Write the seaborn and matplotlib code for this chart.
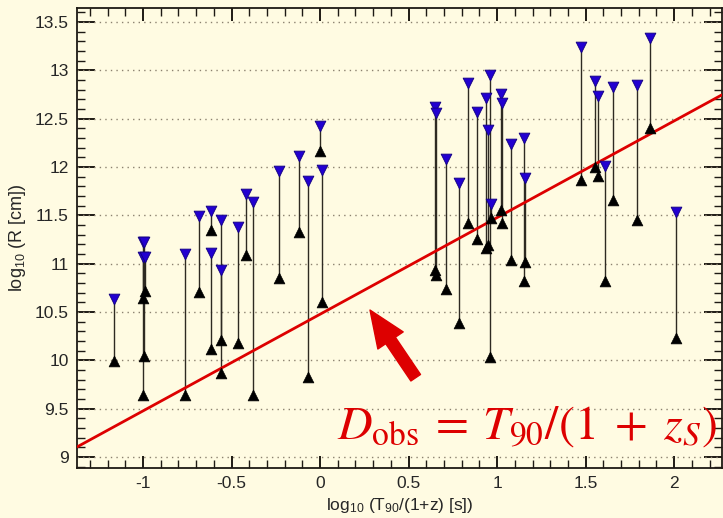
import numpy as np
import pandas as pd
import matplotlib
matplotlib.use("Agg")
import matplotlib.pyplot as plt
import seaborn as sns
from matplotlib.ticker import MultipleLocator

# Rest-frame duration and the allowed range of emission radius for each burst
log_t90_rest = [-1.162, -1.00, -0.995, -1.00, -0.99, -0.763, -0.684, -0.616, -0.616,
                -0.559, -0.559, -0.461, -0.42, -0.38, -0.232, -0.119, -0.066, 0.0,
                0.013, 0.65, 0.655, 0.71, 0.785, 0.838, 0.889, 0.938, 0.951, 0.96,
                0.965, 1.02, 1.025, 1.079, 1.153, 1.155, 1.473, 1.55, 1.572, 1.61,
                1.654, 1.789, 1.864, 2.011]
log_r_lower = [9.99, 9.64, 10.04, 10.64, 10.72, 9.64, 10.71, 11.35, 10.12,
               9.87, 10.21, 10.18, 11.09, 9.64, 10.85, 11.33, 9.83, 12.17,
               10.60, 10.93, 10.88, 10.74, 10.39, 11.42, 11.26, 11.16, 11.19, 10.03,
               11.47, 11.55, 11.42, 11.04, 10.82, 11.02, 11.87, 12.00, 11.91, 10.82,
               11.66, 11.45, 12.40, 10.23]
log_r_upper = [10.63, 11.22, 11.22, 11.07, 11.07, 11.10, 11.49, 11.54, 11.11,
               11.45, 10.93, 11.38, 11.72, 11.64, 11.96, 12.11, 11.86, 12.42,
               11.97, 12.62, 12.56, 12.08, 11.83, 12.87, 12.57, 12.71, 12.38, 12.95,
               11.62, 12.75, 12.66, 12.24, 12.30, 11.89, 13.24, 12.89, 12.73, 12.01,
               12.83, 12.85, 13.33, 11.53]

# Light-travel relation D = c * T90 / (1 + z)
log_c = np.log10(2.998e10)
line_x = [-1.37, 2.27]

x_ticks = [-1, -0.5, 0, 0.5, 1, 1.5, 2]
x_tick_labels = ["-1", "-0.5", "0", "0.5", "1", "1.5", "2"]
y_ticks = [9, 9.5, 10, 10.5, 11, 11.5, 12, 12.5, 13, 13.5]
y_tick_labels = ["9", "9.5", "10", "10.5", "11", "11.5", "12", "12.5", "13", "13.5"]

bg = "#fffbe2"
sns.set_style("ticks", rc={"axes.facecolor": bg, "figure.facecolor": bg})
plt.rcParams["font.family"] = ["Liberation Sans", "DejaVu Sans"]
plt.rcParams["axes.unicode_minus"] = False
plt.rcParams["mathtext.fontset"] = "custom"
plt.rcParams["mathtext.rm"] = "Liberation Sans"
plt.rcParams["mathtext.it"] = "Liberation Sans:italic"

df = pd.DataFrame({"t": log_t90_rest, "lo": log_r_lower, "hi": log_r_upper})
line_df = pd.DataFrame({"x": line_x, "y": [v + log_c for v in line_x]})

fig, ax = plt.subplots(figsize=(7.23, 5.18), dpi=100)
fig.subplots_adjust(left=0.1065, right=0.9986, top=0.9846, bottom=0.0965)

ax.set_xlim(-1.373, 2.27)
ax.set_ylim(8.886, 13.645)

for y in y_ticks:
    ax.axhline(y, color="#8c8270", lw=1.0, ls=(0, (1, 3)), zorder=1)

ax.vlines(df["t"], df["lo"], df["hi"], color="#2e2a22", lw=1.0, zorder=2)

sns.lineplot(data=line_df, x="x", y="y", color="#dd0000", lw=2.0, ax=ax, zorder=3)

sns.scatterplot(data=df, x="t", y="lo", marker="^", s=60, color="black",
                edgecolor="black", linewidth=0.5, ax=ax, zorder=4)
sns.scatterplot(data=df, x="t", y="hi", marker="v", s=60, color="#2200d0",
                edgecolor="#120080", linewidth=0.6, ax=ax, zorder=4)

ax.set_xticks(x_ticks)
ax.set_xticklabels(x_tick_labels)
ax.set_yticks(y_ticks)
ax.set_yticklabels(y_tick_labels)
ax.xaxis.set_minor_locator(MultipleLocator(0.1))
ax.yaxis.set_minor_locator(MultipleLocator(0.1))
ax.tick_params(axis="both", which="both", direction="in", top=True, right=True,
               color="#1e1a14", labelsize=12.5, pad=6)
ax.tick_params(axis="y", which="major", length=13, width=1.4)
ax.tick_params(axis="x", which="major", length=9, width=1.4)
ax.tick_params(axis="both", which="minor", length=5.5, width=1.0)
for s in ax.spines.values():
    s.set_linewidth(1.3)
    s.set_color("#1e1a14")

ax.set_xlabel(r"log$_{10}$ (T$_{90}$/(1+z) [s])", fontsize=12.5, labelpad=3)
ax.set_ylabel(r"log$_{10}$ (R [cm])", fontsize=13, labelpad=5)

ax.annotate("", xy=(0.282, 10.52), xytext=(0.54, 9.82),
            arrowprops=dict(arrowstyle="simple,head_length=1.2,head_width=1.0,tail_width=0.38",
                            color="#dd0000", mutation_scale=22, shrinkA=0, shrinkB=0),
            zorder=5)
ax.text(0.096, 9.196, r"$D_{\rm obs}\:=\:T_{90}/(1\;+\;z_S)$", color="#dd0000",
        fontsize=34.5, math_fontfamily="stix", ha="left", va="baseline", zorder=5)

fig.savefig("out.png", dpi=100, facecolor=bg)
